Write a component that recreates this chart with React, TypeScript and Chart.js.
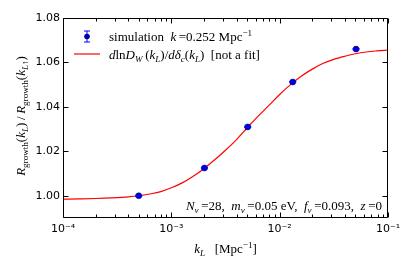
import React, { useEffect, useRef } from "react";
import { Chart, registerables } from "chart.js";

Chart.register(...registerables);

// ---- data ----
const curveK = [1.0e-4, 1.41e-4, 2.0e-4, 2.8e-4, 4.0e-4, 5.0e-4, 6.3e-4, 8.0e-4, 1.0e-3, 1.26e-3, 1.58e-3, 2.0e-3, 2.5e-3, 3.16e-3, 4.0e-3, 5.0e-3, 6.3e-3, 8.0e-3, 1.0e-2, 1.26e-2, 1.58e-2, 2.0e-2, 2.5e-2, 3.16e-2, 4.0e-2, 5.0e-2, 6.3e-2, 7.9e-2, 1.0e-1];
const curveR = [0.9985, 0.99862, 0.99878, 0.99905, 0.9995, 1.0000, 1.0008, 1.0019, 1.0036, 1.0058, 1.0087, 1.0122, 1.0161, 1.0205, 1.0253, 1.0305, 1.0357, 1.0408, 1.0456, 1.0500, 1.0538, 1.0570, 1.0595, 1.0614, 1.0628, 1.0639, 1.0647, 1.0652, 1.0656];

const simK = [5.0e-4, 2.02e-3, 5.07e-3, 1.32e-2, 5.07e-2];
const simR = [1.0000, 1.0125, 1.031, 1.0512, 1.066];
const simErr = [0.0003, 0.0003, 0.0003, 0.0003, 0.0003];

const yTicks = [1.0, 1.02, 1.04, 1.06, 1.08];
const xTicks = [1e-4, 1e-3, 1e-2, 1e-1];
const xTickLabels = ["10\u207B\u2074", "10\u207B\u00B3", "10\u207B\u00B2", "10\u207B\u00B9"];

const SERIF = '"Liberation Serif", "DejaVu Serif", serif';
const SANS = '"DejaVu Sans", sans-serif';

type Seg = { t: string; it?: boolean; sub?: boolean; sup?: boolean };

function segFont(s: Seg, size: number) {
  const sz = s.sub || s.sup ? size * 0.7 : size;
  return `${s.it ? "italic " : ""}${sz}px ${SERIF}`;
}

function richWidth(ctx: CanvasRenderingContext2D, segs: Seg[], size: number) {
  let w = 0;
  for (const s of segs) {
    ctx.font = segFont(s, size);
    w += ctx.measureText(s.t).width;
  }
  return w;
}

function drawRich(ctx: CanvasRenderingContext2D, segs: Seg[], x: number, y: number, size: number, align: "left" | "center" | "right") {
  const w = richWidth(ctx, segs, size);
  let cx = align === "left" ? x : align === "center" ? x - w / 2 : x - w;
  ctx.textAlign = "left";
  ctx.textBaseline = "alphabetic";
  for (const s of segs) {
    ctx.font = segFont(s, size);
    const dy = s.sub ? size * 0.22 : s.sup ? -size * 0.4 : 0;
    ctx.fillText(s.t, cx, y + dy);
    cx += ctx.measureText(s.t).width;
  }
}

const legend1: Seg[] = [
  { t: "simulation  " },
  { t: "k" , it: true },
  { t: "\u2009=0.252 Mpc" },
  { t: "\u22121", sup: true },
];
const legend2: Seg[] = [
  { t: "d", it: true },
  { t: "ln" },
  { t: "D", it: true },
  { t: "W", it: true, sub: true },
  { t: "\u2009(" },
  { t: "k", it: true },
  { t: "L", it: true, sub: true },
  { t: ")/" },
  { t: "d\u03B4", it: true },
  { t: "c", it: true, sub: true },
  { t: "(" },
  { t: "k", it: true },
  { t: "L", it: true, sub: true },
  { t: ")  [not a fit]" },
];
const annot: Seg[] = [
  { t: "N", it: true },
  { t: "\u03BD", it: true, sub: true },
  { t: "\u2009=28,  " },
  { t: "m", it: true },
  { t: "\u03BD", it: true, sub: true },
  { t: "\u2009=0.05 eV,  " },
  { t: "f", it: true },
  { t: "\u03BD", it: true, sub: true },
  { t: "\u2009=0.093,  " },
  { t: "z", it: true },
  { t: "\u2009=0" },
];
const xTitle: Seg[] = [
  { t: "k", it: true },
  { t: "L", it: true, sub: true },
  { t: "   [Mpc" },
  { t: "\u22121", sup: true },
  { t: "]" },
];
const yTitle: Seg[] = [
  { t: "R", it: true },
  { t: "growth", sub: true },
  { t: "(" },
  { t: "k", it: true },
  { t: "L", it: true, sub: true },
  { t: ")\u2009/\u2009" },
  { t: "R", it: true },
  { t: "growth", sub: true },
  { t: "(" },
  { t: "k", it: true },
  { t: "L\u2191", it: true, sub: true },
  { t: ")" },
];

const decorPlugin = {
  id: "decor",
  afterDatasetDraw(chart: any, args: any) {
    if (args.index !== 0) return;
    const { ctx, scales } = chart;
    const x = scales.x, y = scales.y;
    ctx.save();
    ctx.strokeStyle = "#0000ff";
    ctx.lineWidth = 1;
    simK.forEach((k, i) => {
      const px = x.getPixelForValue(k);
      const p1 = y.getPixelForValue(simR[i] + simErr[i]);
      const p2 = y.getPixelForValue(simR[i] - simErr[i]);
      ctx.beginPath();
      ctx.moveTo(px, p1);
      ctx.lineTo(px, p2);
      ctx.moveTo(px - 3.5, p1);
      ctx.lineTo(px + 3.5, p1);
      ctx.moveTo(px - 3.5, p2);
      ctx.lineTo(px + 3.5, p2);
      ctx.stroke();
    });
    ctx.restore();
  },
  afterDraw(chart: any) {
    const { ctx, chartArea: a, scales } = chart;
    const x = scales.x, y = scales.y;
    ctx.save();
    ctx.strokeStyle = "#000";
    ctx.lineWidth = 1;
    const L = Math.round(a.left) + 0.5, R = Math.round(a.right) - 0.5;
    const T = Math.round(a.top) + 0.5, B = Math.round(a.bottom) - 0.5;
    ctx.beginPath();
    ctx.rect(L, T, R - L, B - T);
    // x ticks (major + minor)
    for (let e = -4; e <= -1; e++) {
      for (let m = 1; m <= 9; m++) {
        const v = m * Math.pow(10, e);
        if (v > 0.1 * 1.0001) break;
        const px = Math.round(x.getPixelForValue(v)) + 0.5;
        const len = m === 1 ? 5 : 3;
        ctx.moveTo(px, B);
        ctx.lineTo(px, B - len);
        ctx.moveTo(px, T);
        ctx.lineTo(px, T + len);
      }
    }
    for (const v of yTicks) {
      const py = Math.round(y.getPixelForValue(v)) + 0.5;
      ctx.moveTo(L, py);
      ctx.lineTo(L + 5, py);
      ctx.moveTo(R, py);
      ctx.lineTo(R - 5, py);
    }
    ctx.stroke();

    ctx.fillStyle = "#000";
    // legend
    ctx.strokeStyle = "#0000ff";
    ctx.beginPath();
    ctx.moveTo(87, 31);
    ctx.lineTo(87, 42);
    ctx.moveTo(84, 31);
    ctx.lineTo(90, 31);
    ctx.moveTo(84, 42);
    ctx.lineTo(90, 42);
    ctx.stroke();
    ctx.fillStyle = "#0000b0";
    ctx.beginPath();
    ctx.arc(87, 36.5, 2.8, 0, Math.PI * 2);
    ctx.fill();
    ctx.strokeStyle = "#ff0000";
    ctx.lineWidth = 1.2;
    ctx.beginPath();
    ctx.moveTo(74, 54);
    ctx.lineTo(100, 54);
    ctx.stroke();

    ctx.fillStyle = "#000";
    drawRich(ctx, legend1, 109, 41, 13, "left");
    drawRich(ctx, legend2, 109, 59, 13, "left");
    drawRich(ctx, annot, 382, 210, 13, "right");
    drawRich(ctx, xTitle, (a.left + a.right) / 2, 253, 13, "center");

    ctx.save();
    ctx.translate(25, (a.top + a.bottom) / 2 - 2);
    ctx.rotate(-Math.PI / 2);
    drawRich(ctx, yTitle, 0, 0, 13, "center");
    ctx.restore();
    ctx.restore();
  },
};

export default function App() {
  const ref = useRef<HTMLCanvasElement | null>(null);
  useEffect(() => {
    if (!ref.current) return;
    const chart = new Chart(ref.current, {
      type: "scatter",
      data: {
        datasets: [
          {
            label: "simulation",
            data: simK.map((k, i) => ({ x: k, y: simR[i] })),
            showLine: false,
            pointRadius: 3,
            pointBackgroundColor: "#0000b0",
            pointBorderColor: "#00008b",
            pointBorderWidth: 0.5,
            order: 0,
          },
          {
            label: "curve",
            data: curveK.map((k, i) => ({ x: k, y: curveR[i] })),
            showLine: true,
            borderColor: "#ff0000",
            borderWidth: 1.2,
            pointRadius: 0,
            cubicInterpolationMode: "monotone",
            order: 1,
          },
        ],
      },
      options: {
        animation: false,
        responsive: false,
        layout: { padding: { left: 0, top: 18, right: 25, bottom: 0 } },
        plugins: { legend: { display: false }, tooltip: { enabled: false } },
        scales: {
          x: {
            type: "logarithmic",
            min: 1e-4,
            max: 1e-1,
            grid: { display: false, drawTicks: false },
            border: { display: false },
            afterBuildTicks: (s: any) => {
              s.ticks = xTicks.map((v) => ({ value: v }));
            },
            afterFit: (s: any) => {
              s.height = 57;
            },
            ticks: {
              autoSkip: false,
              maxRotation: 0,
              padding: 5,
              color: "#000",
              font: { family: SANS, size: 11 },
              callback: (v: any) => {
                const i = xTicks.findIndex((t) => Math.abs(t - v) / t < 1e-6);
                return i >= 0 ? xTickLabels[i] : "";
              },
            },
          },
          y: {
            min: 0.99,
            max: 1.08,
            grid: { display: false, drawTicks: false },
            border: { display: false },
            afterBuildTicks: (s: any) => {
              s.ticks = yTicks.map((v) => ({ value: v }));
            },
            afterFit: (s: any) => {
              s.width = 63;
            },
            ticks: {
              padding: 3,
              color: "#000",
              font: { family: SANS, size: 11 },
              callback: (v: any) => Number(v).toFixed(2),
            },
          },
        },
      },
      plugins: [decorPlugin],
    } as any);
    return () => chart.destroy();
  }, []);
  return (
    <div style={{ position: "fixed", left: 0, top: 0, width: 413, height: 275, background: "#fff" }}>
      <canvas ref={ref} width={413} height={275} style={{ width: 413, height: 275, display: "block" }} />
    </div>
  );
}
